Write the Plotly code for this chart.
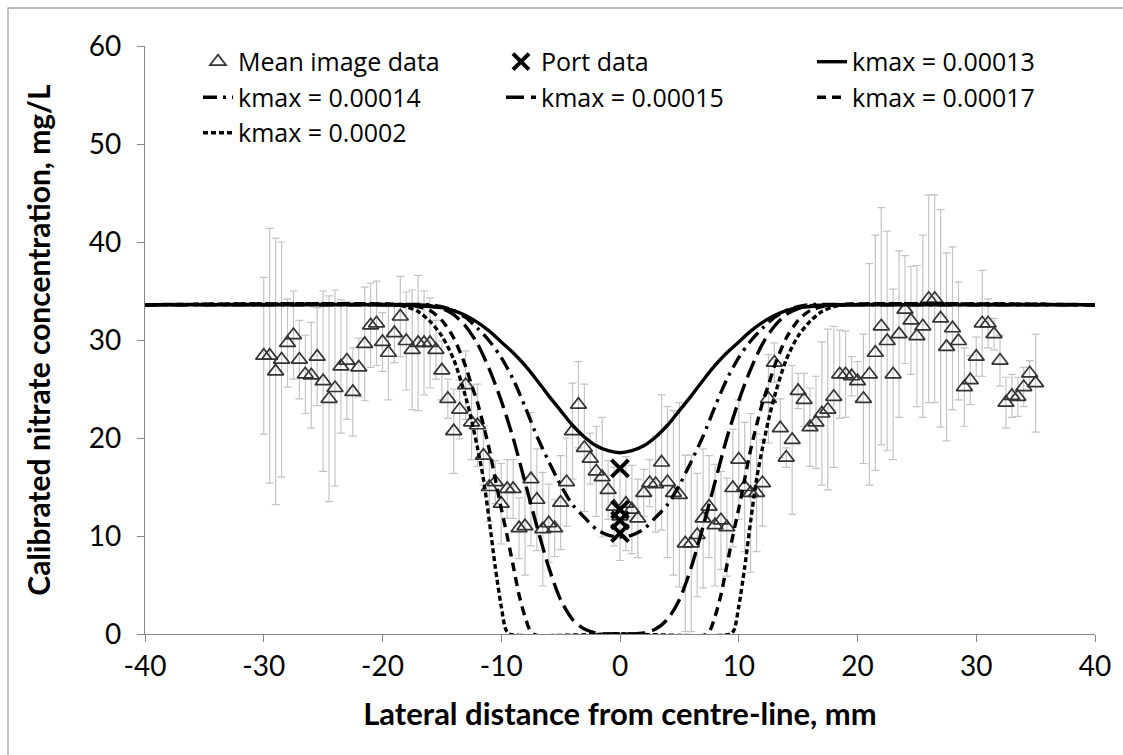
import plotly.graph_objects as go

# ---------------- data ----------------
img_x = [-30.0, -29.5, -29.0, -28.5, -28.0, -27.5, -27.0, -26.5, -26.0, -25.5, -25.0, -24.5,
         -24.0, -23.5, -23.0, -22.5, -22.0, -21.5, -21.0, -20.5, -20.0, -19.5, -19.0, -18.5,
         -18.0, -17.5, -17.0, -16.5, -16.0, -15.5, -15.0, -14.5, -14.0, -13.5, -13.0, -12.5,
         -12.0, -11.5, -11.0, -10.5, -10.0, -9.5, -9.0, -8.5, -8.0, -7.5, -7.0, -6.5, -6.0,
         -5.5, -5.0,
         -4.5, -4.0, -3.5, -3.0, -2.5, -2.0, -1.5, -1.0, -0.5, 0.0, 0.5, 1.0, 1.5, 2.0, 2.5,
         3.0, 3.5, 4.0, 4.5, 5.0, 5.5, 6.0, 6.5, 7.0, 7.5, 8.0,
         8.5, 9.0, 9.5, 10.0, 10.5, 11.0, 11.5, 12.0, 12.5, 13.0, 13.5, 14.0, 14.5, 15.0, 15.5,
         16.0, 16.5, 17.0, 17.5, 18.0, 18.5, 19.0, 19.5, 20.0, 20.5, 21.0, 21.5,
         22.0, 22.5, 23.0, 23.5, 24.0, 24.5, 25.0, 25.5, 26.0, 26.5, 27.0, 27.5, 28.0, 28.5,
         29.0, 29.5, 30.0, 30.5, 31.0, 31.5, 32.0, 32.5, 33.0, 33.5, 34.0, 34.5, 35.0]
img_y = [28.4, 28.4, 26.8, 28.0, 29.7, 30.5, 28.0, 26.5, 26.4, 28.3, 25.8, 24.0,
         25.1, 27.3, 27.9, 24.7, 27.2, 29.6, 31.5, 31.7, 29.8, 28.7, 30.7, 32.4,
         29.9, 29.0, 29.7, 29.7, 29.7, 29.0, 26.9, 24.0, 20.7, 22.9, 25.4, 21.6,
         21.3, 18.2, 15.0, 15.5, 13.3, 14.8, 14.8, 10.8, 11.0, 15.8, 13.7, 10.7, 11.3,
         10.8, 13.4,
         15.5, 20.7, 23.4, 19.0, 17.9, 16.6, 16.0, 14.7, 13.0, 12.0, 13.3, 12.7, 11.8, 14.4, 15.4,
         15.3, 17.5, 15.5, 14.4, 14.2, 9.25, 9.25, 10.1, 11.8, 13.0, 11.1,
         11.6, 10.9, 14.9, 17.8, 15.0, 14.4, 14.4, 15.4, 24.0, 27.7, 21.0, 18.0, 19.8, 24.8, 23.9,
         21.1, 21.6, 22.5, 22.9, 24.2, 26.5, 26.5, 26.3, 25.8, 24.0, 26.5, 28.7,
         31.4, 29.9, 26.5, 30.6, 33.1, 32.0, 30.4, 31.4, 34.2, 34.2, 32.2, 29.3, 31.2, 29.9,
         25.2, 25.9, 28.3, 31.7, 31.7, 30.6, 27.9, 23.6, 24.3, 24.2, 25.2, 26.6, 25.6]
img_err = [8.0, 13.0, 13.6, 12.0, 4.5, 4.5, 4.0, 4.0, 5.4, 5.0, 9.2, 10.5,
           10.0, 6.8, 6.0, 4.5, 3.0, 5.8, 4.3, 4.3, 3.0, 4.8, 3.0, 4.1,
           5.0, 6.1, 6.9, 5.3, 4.6, 3.0, 3.0, 2.0, 4.3, 3.0, 3.5, 3.8,
           4.2, 3.0, 3.5, 2.2, 4.1, 3.0, 3.0, 3.1, 5.0, 6.8, 5.2, 5.8, 4.0,
           2.9, 4.8,
           4.5, 4.9, 4.4, 6.5, 2.6, 4.6, 6.1, 3.0, 4.0, 4.5, 4.8, 4.5, 4.0, 2.4, 2.4,
           4.9, 6.9, 7.7, 8.4, 9.4, 9.0, 9.0, 6.3, 7.1, 5.2, 6.2,
           5.0, 5.0, 6.0, 6.1, 6.6, 8.1, 6.0, 4.4, 4.5, 2.0, 3.0, 1.0, 7.6, 1.8, 2.7,
           4.0, 4.7, 7.3, 8.2, 7.2, 4.5, 4.4, 2.0, 2.0, 6.6, 11.3, 12.0,
           12.1, 11.2, 8.7, 8.5, 5.5, 5.5, 7.2, 9.3, 10.6, 10.6, 11.1, 9.6, 8.3, 6.0,
           4.0, 2.5, 2.0, 5.4, 2.5, 1.6, 2.6, 2.6, 2.2, 2.0, 2.0, 1.3, 5.0]

port_x = [0.0, 0.0, 0.0, 0.0]
port_y = [16.9, 12.7, 11.6, 10.3]

k13_x = [-40, -20, -17, -15, -14, -13, -12, -11, -10, -9, -8, -7, -6, -5, -4, -3, -2, -1, 0,
         1, 2, 3, 4, 5, 6, 7, 8, 9, 10, 11, 12, 13, 14, 15, 17, 20, 40]
k13_y = [33.6, 33.6, 33.5, 33.3, 33.0, 32.5, 31.8, 30.9, 29.8, 28.7, 27.4, 25.9, 24.3, 22.8,
         21.3, 20.1, 19.2, 18.7, 18.5,
         18.7, 19.2, 20.1, 21.3, 22.8, 24.3, 25.9, 27.4, 28.7, 29.8, 30.9, 31.8, 32.5, 33.0,
         33.3, 33.5, 33.6, 33.6]

k14_x = [-40, -20, -16, -15, -14, -13, -12, -11, -10, -9, -8, -7, -6, -5, -4, -3, -2, -1, 0,
         1, 2, 3, 4, 5, 6, 7, 8, 9, 10, 11, 12, 13, 14, 15, 16, 20, 40]
k14_y = [33.6, 33.6, 33.6, 33.4, 33.0, 32.3, 31.2, 29.9, 28.2, 26.0, 23.2, 20.2, 17.6, 15.2,
         13.2, 11.9, 10.7, 10.1, 9.9,
         10.1, 10.7, 11.9, 13.2, 15.2, 17.6, 20.2, 23.2, 26.0, 28.2, 29.9, 31.2, 32.3, 33.0,
         33.4, 33.6, 33.6, 33.6]

k15_x = [-40, -18, -16, -15, -14, -13, -12, -11, -10, -9, -8, -7, -6, -5, -4, -3, -2, -1, 0,
         1, 2, 3, 4, 5, 6, 7, 8, 9, 10, 11, 12, 13, 14, 15, 16, 18, 40]
k15_y = [33.6, 33.6, 33.5, 33.2, 32.6, 31.4, 29.6, 27.0, 23.8, 20.0, 15.5, 11.0, 6.8, 3.5,
         1.5, 0.5, 0.1, 0.0, 0.0,
         0.0, 0.1, 0.5, 1.5, 3.5, 6.8, 11.0, 15.5, 20.0, 23.8, 27.0, 29.6, 31.4, 32.6,
         33.2, 33.5, 33.6, 33.6]

k17_x = [-40, -18, -17, -16, -15, -14, -13, -12.5, -12, -11.5, -11, -10.5, -10, -9.5, -9,
         -8.5, -8, -7.3, 0, 7.3, 8, 8.5, 9, 9.5, 10, 10.5, 11, 11.5, 12, 12.5, 13, 14, 15,
         16, 17, 18, 40]
k17_y = [33.6, 33.6, 33.4, 33.0, 32.0, 30.2, 27.3, 25.4, 23.6, 21.3, 18.8, 15.8, 12.8, 10.0,
         7.0, 4.0, 1.8, 0.0, 0.0, 0.0, 1.8, 4.0, 7.0, 10.0, 12.8, 15.8, 18.8, 21.3, 23.6, 25.4,
         27.3, 30.2, 32.0, 33.0, 33.4, 33.6, 33.6]

k20_x = [-40, -19, -18, -17, -16, -15, -14, -13, -12.5, -12, -11.5, -11, -10.5, -10, -9.6,
         -9.3, 0, 9.3, 9.6, 10, 10.5, 11, 11.5, 12, 12.5, 13, 14, 15, 16, 17, 18, 19, 40]
k20_y = [33.6, 33.6, 33.4, 32.9, 31.9, 30.4, 28.0, 24.2, 21.8, 19.0, 15.8, 11.5, 6.8, 2.8, 0.4,
         0.0, 0.0, 0.0, 0.4, 2.8, 6.8, 11.5, 15.8, 19.0, 21.8, 24.2, 28.0, 30.4, 31.9, 32.9,
         33.4, 33.6, 33.6]

x_ticks = [-40, -30, -20, -10, 0, 10, 20, 30, 40]
y_ticks = [0, 10, 20, 30, 40, 50, 60]

FONT = "Lato, 'Open Sans', sans-serif"
LEG_FONT = dict(size=25, family="'Open Sans', Lato, sans-serif", color="black")

fig = go.Figure()

fig.add_trace(go.Scatter(
    x=img_x, y=img_y, mode="markers", name="Mean image data", legend="legend",
    marker=dict(symbol="triangle-up-open", size=14, color="#333333", line=dict(width=1.7, color="#333333")),
    error_y=dict(type="data", array=img_err, color="#c4c4c4", thickness=1.2, width=4),
    legendrank=1,
))
fig.add_trace(go.Scatter(
    x=port_x, y=port_y, mode="markers", name="Port data", legend="legend2",
    marker=dict(symbol="x-thin-open", size=17, color="black", line=dict(width=4, color="black")),
    legendrank=1,
))

curves = [
    ("kmax = 0.00013", k13_x, k13_y, "solid", "legend3", 1),
    ("kmax = 0.00014", k14_x, k14_y, "14px,6px,3px,6px", "legend", 2),
    ("kmax = 0.00015", k15_x, k15_y, "18px,7px", "legend2", 2),
    ("kmax = 0.00017", k17_x, k17_y, "9px,6px", "legend3", 2),
    ("kmax = 0.0002", k20_x, k20_y, "5px,3px", "legend", 3),
]
for nm, xs, ys, dash, leg, rank in curves:
    fig.add_trace(go.Scatter(
        x=xs, y=ys, mode="lines", name=nm, legend=leg,
        line=dict(color="black", width=3.4, dash=dash, shape="spline", smoothing=0.8),
        legendrank=rank,
    ))

def leg(xpx):
    return dict(
        orientation="v", x=(xpx - 145) / 950, y=1.012, xanchor="left", yanchor="top",
        font=LEG_FONT, bgcolor="rgba(0,0,0,0)", itemwidth=30, tracegroupgap=0,
    )

fig.update_layout(
    width=1123, height=755,
    margin=dict(l=145, r=28, t=46, b=121),
    paper_bgcolor="white", plot_bgcolor="white",
    font=dict(family=FONT, color="black"),
    showlegend=True,
    legend=leg(198),
    legend2=leg(501),
    legend3=leg(812),
    xaxis=dict(
        range=[-40, 40], tickvals=x_ticks, ticktext=[str(v) for v in x_ticks],
        showline=True, linecolor="#868686", linewidth=1.3,
        ticks="outside", ticklen=7, tickcolor="#868686",
        showgrid=False, zeroline=False,
        tickfont=dict(size=28, family=FONT, color="black"),
        title=dict(text="Lateral distance from centre-line, mm",
                   font=dict(size=31, family=FONT, color="black", weight="bold"), standoff=22),
    ),
    yaxis=dict(
        range=[0, 60], tickvals=y_ticks,
        showline=True, linecolor="#868686", linewidth=1.3,
        ticks="outside", ticklen=7, tickcolor="#868686", ticklabelstandoff=10,
        showgrid=False, zeroline=False,
        tickfont=dict(size=28, family=FONT, color="black"),
        title=dict(text="Calibrated nitrate concentration, mg/L",
                   font=dict(size=30, family=FONT, color="black", weight="bold"), standoff=29),
    ),
    shapes=[dict(type="rect", xref="paper", yref="paper",
                 x0=(8 - 145) / 950, x1=(1140 - 145) / 950,
                 y0=(634 - 770) / 588, y1=(634 - 8) / 588,
                 line=dict(color="#a6a6a6", width=1.3), layer="below")],
)

fig.write_html("out.html")
